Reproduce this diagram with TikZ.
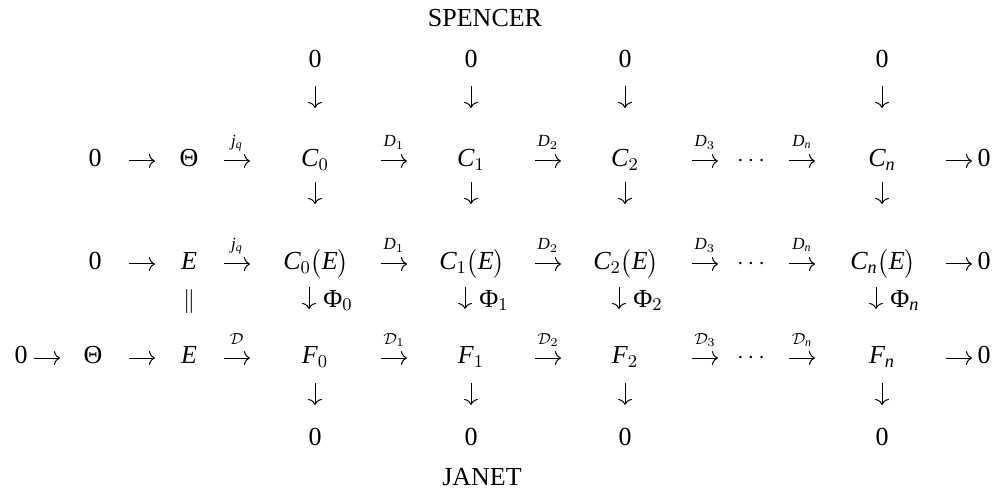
\documentclass[tikz,border=0pt]{standalone}
\usepackage{amsmath}
\usepackage{fontspec}
\setmainfont{Liberation Serif}
\usetikzlibrary{arrows.meta,positioning,calc}
\tikzset{
  pf/.style={-{To[length=3pt,width=7pt]},line width=0.5pt},
  hslot/.style={inner sep=0pt,minimum width=12.5pt,minimum height=0pt},
  vslot/.style={inner sep=0pt,minimum height=10.5pt,minimum width=0pt},
  obj/.style={inner sep=0pt,anchor=base},
  lbl/.style={inner sep=0pt,anchor=base,font=\fontsize{8.5}{10}\selectfont},
}

\begin{document}
\begin{tikzpicture}[x=0.5pt,y=-0.5pt,font=\fontsize{13}{16}\selectfont]
  \useasboundingbox (0,0) rectangle (1005,491);
  \node[obj] (sp) at (485,27) {SPENCER};
  \node[obj] (ja) at (482,485) {JANET};
  % zeros above and below
  \foreach \x/\c in {315/0,471/1,625/2,882/n}{
    \node[obj] (top\c) at (\x,68) {0};
    \node[obj] (bot\c) at (\x,445) {0};
  }
  % first row
  \node[obj] (r1z) at (95,167) {0};
  \node[obj] (r1t) at (189,167) {Θ};
  \node[obj] (r1c0) at (315,167) {$\mathit{C}_0$};
  \node[obj] (r1c1) at (471,167) {$\mathit{C}_1$};
  \node[obj] (r1c2) at (625,167) {$\mathit{C}_2$};
  \node[obj] (r1d) at (753,167) {$\cdots$};
  \node[obj] (r1cn) at (882,167) {$\mathit{C}_{\mathit{n}}$};
  \node[obj] (r1e) at (984,167) {0};
  % second row
  \node[obj] (r2z) at (95,270) {0};
  \node[obj] (r2t) at (189,270) {$\mathit{E}$};
  \node[obj] (r2c0) at (316,270) {$\mathit{C}_0\bigl(\mathit{E}\bigr)$};
  \node[obj] (r2c1) at (472,270) {$\mathit{C}_1\bigl(\mathit{E}\bigr)$};
  \node[obj] (r2c2) at (626,270) {$\mathit{C}_2\bigl(\mathit{E}\bigr)$};
  \node[obj] (r2d) at (753,270) {$\cdots$};
  \node[obj] (r2cn) at (883,270) {$\mathit{C}_{\mathit{n}}\bigl(\mathit{E}\bigr)$};
  \node[obj] (r2e) at (984,270) {0};
  \node[obj] (eq) at (189,307) {$\|$};
  % third row
  \node[obj] (r3z) at (21,364) {0};
  \node[obj] (r3t) at (93,364) {Θ};
  \node[obj] (r3e0) at (189,364) {$\mathit{E}$};
  \node[obj] (r3f0) at (315,364) {$\mathit{F}_0$};
  \node[obj] (r3f1) at (471,364) {$\mathit{F}_1$};
  \node[obj] (r3f2) at (625,364) {$\mathit{F}_2$};
  \node[obj] (r3d) at (753,364) {$\cdots$};
  \node[obj] (r3fn) at (882,364) {$\mathit{F}_{\mathit{n}}$};
  \node[obj] (r3e) at (984,364) {0};
  % horizontal arrows
  \foreach \y/\r in {161/1,264/2,358/3}
    \foreach \x/\c in {142/1,237/2,394/3,548/4,705/5,802/6,959/7}{
      \node[hslot] (h\r\c) at (\x,\y) {};
      \draw[pf] (h\r\c.west) -- (h\r\c.east);
    }
  \node[hslot] (h30) at (47,358) {};
  \draw[pf] (h30.west) -- (h30.east);
  % arrow labels
  \foreach \r in {1,2}
    \foreach \c/\t in {2/{\mathit{j}_{\mathit{q}}},3/{\mathit{D}_1},4/{\mathit{D}_2},5/{\mathit{D}_3},6/{\mathit{D}_{\mathit{n}}}}
      \node[lbl] (l\r\c) at ([yshift=7pt]h\r\c.center) {$\t$};
  \foreach \c/\t in {2/{},3/1,4/2,5/3,6/{\mathit{n}}}
    \node[lbl] (l3\c) at ([yshift=7pt]h3\c.center) {$\mathcal{D}_{\t}$};
  % vertical arrows
  \foreach \x/\c/\s in {315/0/0,471/1/1,625/2/2,882/n/{\mathit{n}}}{
    \node[vslot] (va\c) at (\x,97) {};
    \node[vslot] (vb\c) at (\x,193) {};
    \node[vslot] (vc\c) at (\x-6,298) {};
    \node[vslot] (vd\c) at (\x,394) {};
    \draw[pf] (va\c.north) -- (va\c.south);
    \draw[pf] (vb\c.north) -- (vb\c.south);
    \draw[pf] (vc\c.north) -- (vc\c.south);
    \draw[pf] (vd\c.north) -- (vd\c.south);
    \node[obj,anchor=base west] (phi\c) at (\x+8,307) {$\text{Φ}_{\s}$};
  }
\end{tikzpicture}
\end{document}
